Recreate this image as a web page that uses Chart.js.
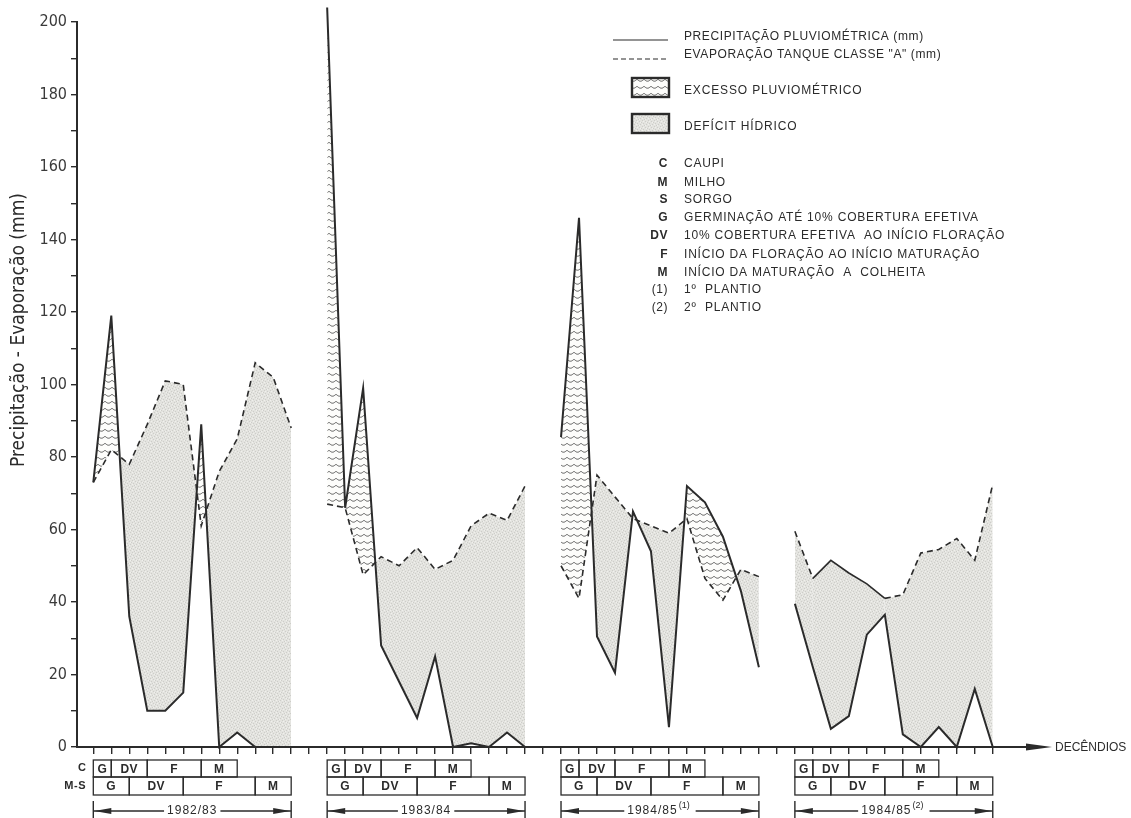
<!DOCTYPE html>
<html lang="pt">
<head>
<meta charset="utf-8">
<title>Precipitação e evaporação por decêndio</title>
<script src="https://cdn.jsdelivr.net/npm/chart.js@4.4.1/dist/chart.umd.min.js"></script>
<style>
  html, body { margin: 0; padding: 0; background: #fff; }
  #box { width: 1131px; height: 818px; position: relative; }
</style>
</head>
<body>
<div id="box"><canvas id="myChart"></canvas></div>
<script>
// decendios are counted from the first one of 1982/83
var seasonStart = [0, 13, 26, 39];
var seasonLabel = ['1982/83', '1983/84', '1984/85', '1984/85'];
var seasonNote = ['', '', '(1)', '(2)'];

// precipitação pluviométrica (mm), one value per decendio
var chuva8283 = [73, 119, 36, 10, 10, 15, 89, 0, 4, 0, 0, 0];
var chuva8384 = [204, 66, 99, 28, 18, 8, 25, 0, 1, 0, 4, 0];
var chuva8485a = [85.5, 146, 30.5, 20.5, 65, 54, 5.5, 72, 67.5, 58, 43, 22];
var chuva8485b = [39.5, 22, 5, 8.5, 31, 36.5, 3.5, 0, 5.5, 0, 16, 0];

// evaporação tanque classe A (mm)
var evap8283 = [73, 82, 78, 89, 101, 100, 61, 76, 85, 106, 102, 88];
var evap8384 = [67, 66, 47.5, 52.5, 50, 55, 49, 51.5, 61, 64.5, 62.5, 72];
var evap8485a = [50, 41, 75, 69, 63, 61, 59, 63, 46.5, 40.5, 49, 47];
var evap8485b = [59.5, 46.5, 51.5, 48, 45, 41, 42, 53.5, 54.5, 57.5, 51.5, 72.5];

// crop phases (length in decendios)
var faseCaupi = ['G', 'DV', 'F', 'M'];
var duracaoCaupi = [1, 2, 3, 2];
var faseMilhoSorgo = ['G', 'DV', 'F', 'M'];
var duracaoMilhoSorgo = [2, 3, 4, 2];

var tituloY = 'Precipitação - Evaporação (mm)';
var legendaLinhas = ['PRECIPITAÇÃO PLUVIOMÉTRICA (mm)', 'EVAPORAÇÃO TANQUE CLASSE "A" (mm)'];
var legendaAreas = ['EXCESSO PLUVIOMÉTRICO', 'DEFÍCIT HÍDRICO'];
var siglas = ['C', 'M', 'S', 'G', 'DV', 'F', 'M', '(1)', '(2)'];
var significados = ['CAUPI', 'MILHO', 'SORGO', 'GERMINAÇÃO ATÉ 10% COBERTURA EFETIVA',
  '10% COBERTURA EFETIVA  AO INÍCIO FLORAÇÃO', 'INÍCIO DA FLORAÇÃO AO INÍCIO MATURAÇÃO',
  'INÍCIO DA MATURAÇÃO  A  COLHEITA', '1º  PLANTIO', '2º  PLANTIO'];

var TINTA = '#2b2b2b';
var FONTE = '"Liberation Sans", Arial, sans-serif';
var FONTE_ESTREITA = '"Liberation Sans Narrow", "DejaVu Sans Condensed", sans-serif';

var ctx = document.getElementById('myChart').getContext('2d');

// wavy hatch used for the rain excess
function ondas() {
  var c = document.createElement('canvas');
  c.width = 7; c.height = 7;
  var g = c.getContext('2d');
  g.fillStyle = '#fdfdfb';
  g.fillRect(0, 0, 7, 7);
  g.strokeStyle = '#4a4a4a';
  g.lineWidth = 0.9;
  g.beginPath();
  g.moveTo(0, 2.2);
  for (var i = 1; i <= 14; i++) {
    var x = i / 2;
    g.lineTo(x, 2.2 + 2 * Math.sin(Math.PI * x / 7));
  }
  g.stroke();
  return ctx.createPattern(c, 'repeat');
}

// grey stipple used for the water deficit
function pontilhado() {
  var c = document.createElement('canvas');
  c.width = 6; c.height = 6;
  var g = c.getContext('2d');
  g.fillStyle = '#e3e3df';
  g.fillRect(0, 0, 6, 6);
  g.fillStyle = '#cdcdc9';
  [[0, 0], [3, 1], [1, 3], [4, 4], [5, 2], [2, 5]].forEach(function (d) {
    g.fillRect(d[0], d[1], 1, 1);
  });
  g.fillStyle = '#f0f0ed';
  [[1, 1], [4, 2], [0, 4], [3, 5]].forEach(function (d) {
    g.fillRect(d[0], d[1], 1, 1);
  });
  return ctx.createPattern(c, 'repeat');
}

var hachura = ondas();
var cinza = pontilhado();

function pontos(valores, inicio) {
  return valores.map(function (v, i) { return { x: inicio + i, y: v }; });
}

var chuvas = [chuva8283, chuva8384, chuva8485a, chuva8485b];
var evaps = [evap8283, evap8384, evap8485a, evap8485b];
var datasets = [];
for (var s = 0; s < chuvas.length; s++) {
  datasets.push({
    label: 'Precipitação ' + seasonLabel[s] + seasonNote[s],
    data: pontos(chuvas[s], seasonStart[s]),
    borderColor: TINTA,
    borderWidth: 2,
    pointRadius: 0,
    tension: 0,
    clip: false,
    fill: { target: datasets.length + 1, above: hachura, below: cinza }
  });
  datasets.push({
    label: 'Evaporação ' + seasonLabel[s] + seasonNote[s],
    data: pontos(evaps[s], seasonStart[s]),
    borderColor: TINTA,
    borderWidth: 1.6,
    borderDash: [6, 4],
    pointRadius: 0,
    tension: 0,
    fill: false,
    // the last season has a stretch drawn with a plain line
    segment: s === 3 ? {
      borderDash: function (c) { return c.p0DataIndex >= 1 && c.p0DataIndex < 5 ? [] : undefined; }
    } : undefined
  });
}

function texto(c, str, x, y, fonte, alinhamento, espaco) {
  c.font = fonte;
  c.textAlign = alinhamento || 'left';
  c.textBaseline = 'middle';
  c.letterSpacing = espaco || '0px';
  c.fillText(str, x, y);
  c.letterSpacing = '0px';
}

function caixas(c, xs, inicio, fases, duracoes, topo, base) {
  var k = inicio;
  c.lineWidth = 1.3;
  for (var i = 0; i < fases.length; i++) {
    var x0 = xs.getPixelForValue(k), x1 = xs.getPixelForValue(k + duracoes[i]);
    c.strokeRect(x0, topo, x1 - x0, base - topo);
    texto(c, fases[i], (x0 + x1) / 2, (topo + base) / 2 + 1, 'bold 12px ' + FONTE, 'center', '0.5px');
    k += duracoes[i];
  }
}

function seta(c, xPonta, y, sentido) {
  c.beginPath();
  c.moveTo(xPonta, y);
  c.lineTo(xPonta + sentido * 17, y - 3);
  c.lineTo(xPonta + sentido * 17, y + 3);
  c.closePath();
  c.fill();
}

var extras = {
  id: 'extras',
  afterDraw: function (chart) {
    var c = chart.ctx, xs = chart.scales.x, area = chart.chartArea;
    c.save();
    c.fillStyle = TINTA;
    c.strokeStyle = TINTA;

    // y axis title
    c.save();
    c.translate(19, 330);
    c.rotate(-Math.PI / 2);
    texto(c, tituloY, 0, 0, '19px ' + FONTE_ESTREITA, 'center');
    c.restore();

    // arrow at the end of the decendio axis
    c.beginPath();
    c.moveTo(1052, area.bottom);
    c.lineTo(1026, area.bottom - 3.5);
    c.lineTo(1026, area.bottom + 3.5);
    c.closePath();
    c.fill();
    texto(c, 'DECÊNDIOS', 1055, area.bottom + 1, '12px ' + FONTE, 'left', '0px');

    // crop phases under each season
    texto(c, 'C', 86, 768, 'bold 11px ' + FONTE, 'right');
    texto(c, 'M-S', 86, 786, 'bold 11px ' + FONTE, 'right', '0.5px');
    for (var s = 0; s < seasonStart.length; s++) {
      var k0 = seasonStart[s];
      caixas(c, xs, k0, faseCaupi, duracaoCaupi, 760, 777);
      caixas(c, xs, k0, faseMilhoSorgo, duracaoMilhoSorgo, 777, 795);

      // season span with arrows
      var xa = xs.getPixelForValue(k0);
      var xb = xs.getPixelForValue(k0 + duracaoMilhoSorgo.reduce(function (a, b) { return a + b; }, 0));
      var yy = 811;
      c.lineWidth = 1.4;
      c.beginPath();
      c.moveTo(xa, 801); c.lineTo(xa, 818);
      c.moveTo(xb, 801); c.lineTo(xb, 818);
      c.stroke();
      var meio = (xa + xb) / 2;
      c.font = '12px ' + FONTE;
      c.letterSpacing = '1px';
      var w1 = c.measureText(seasonLabel[s]).width;
      c.font = '9px ' + FONTE;
      var w2 = seasonNote[s] ? c.measureText(seasonNote[s]).width + 1 : 0;
      c.letterSpacing = '0px';
      var tx = meio - (w1 + w2) / 2;
      texto(c, seasonLabel[s], tx, yy, '12px ' + FONTE, 'left', '1px');
      if (seasonNote[s]) texto(c, seasonNote[s], tx + w1 + 1, yy - 5, '9px ' + FONTE, 'left');
      c.beginPath();
      c.moveTo(xa, yy); c.lineTo(tx - 3, yy);
      c.moveTo(tx + w1 + w2 + 3, yy); c.lineTo(xb, yy);
      c.stroke();
      seta(c, xa + 1, yy, 1);
      seta(c, xb - 1, yy, -1);
    }

    // legend
    c.lineWidth = 1.2;
    c.beginPath();
    c.moveTo(613, 40); c.lineTo(668, 40);
    c.stroke();
    c.setLineDash([5, 3]);
    c.beginPath();
    c.moveTo(613, 59); c.lineTo(668, 59);
    c.stroke();
    c.setLineDash([]);
    texto(c, legendaLinhas[0], 684, 37, '12px ' + FONTE, 'left', '0.6px');
    texto(c, legendaLinhas[1], 684, 55, '12px ' + FONTE, 'left', '0.6px');

    c.lineWidth = 2.4;
    c.fillStyle = hachura;
    c.fillRect(632, 78, 37, 19);
    c.strokeRect(632, 78, 37, 19);
    c.fillStyle = cinza;
    c.fillRect(632, 114, 37, 19);
    c.strokeRect(632, 114, 37, 19);
    c.fillStyle = TINTA;
    texto(c, legendaAreas[0], 684, 91, '12px ' + FONTE, 'left', '0.85px');
    texto(c, legendaAreas[1], 684, 127, '12px ' + FONTE, 'left', '0.85px');

    var linhaY = [164, 182.5, 200, 218, 236, 254.5, 272.5, 290, 308];
    for (var i = 0; i < siglas.length; i++) {
      var negrito = siglas[i].charAt(0) !== '(';
      texto(c, siglas[i], 668, linhaY[i], (negrito ? 'bold ' : '') + '12px ' + FONTE, 'right', '0.5px');
      texto(c, significados[i], 684, linhaY[i], '12px ' + FONTE, 'left', '0.8px');
    }
    c.restore();
  }
};

var myChart = new Chart(ctx, {
  type: 'line',
  data: { datasets: datasets },
  plugins: [extras],
  options: {
    responsive: true,
    maintainAspectRatio: false,
    animation: false,
    layout: { padding: { top: 22, right: 101, bottom: 0, left: 0 } },
    plugins: {
      legend: { display: false },
      tooltip: { enabled: false },
      filler: { drawTime: 'beforeDatasetsDraw' }
    },
    scales: {
      x: {
        type: 'linear',
        min: -0.906,
        max: 52.07,
        afterBuildTicks: function (ax) {
          ax.ticks = [];
          for (var k = 0; k <= 50; k++) ax.ticks.push({ value: k });
        },
        afterFit: function (ax) { ax.height = 71; },
        ticks: { display: false },
        grid: { drawOnChartArea: false, tickLength: 7, color: TINTA, lineWidth: 1.4 },
        border: { color: TINTA, width: 2 }
      },
      y: {
        min: 0,
        max: 200,
        afterBuildTicks: function (ax) {
          ax.ticks = [];
          for (var v = 0; v <= 200; v += 10) ax.ticks.push({ value: v });
        },
        afterFit: function (ax) { ax.width = 77; },
        ticks: {
          autoSkip: false,
          padding: 4,
          color: '#3a3a3a',
          font: { family: FONTE_ESTREITA, size: 16 },
          callback: function (v) { return v % 20 === 0 ? v : ''; }
        },
        grid: { drawOnChartArea: false, tickLength: 6, color: TINTA, lineWidth: 1.4 },
        border: { color: TINTA, width: 2 }
      }
    }
  }
});
</script>
</body>
</html>
